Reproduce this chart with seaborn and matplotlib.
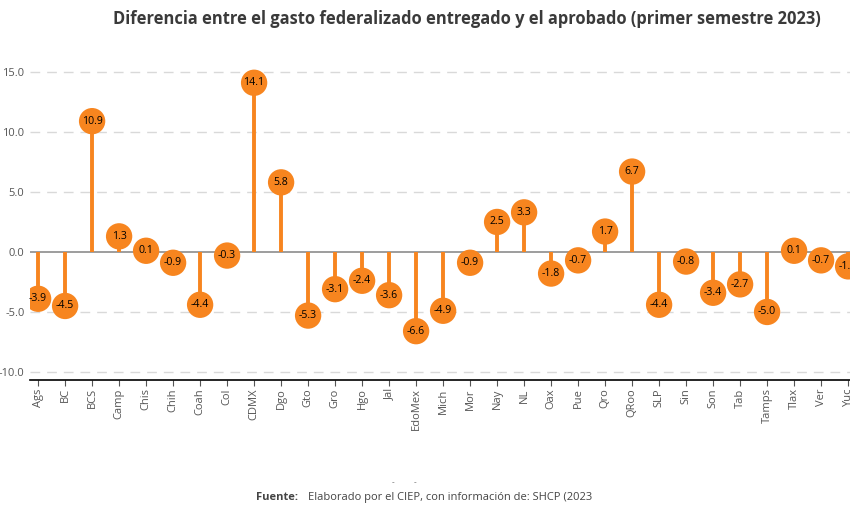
import pandas as pd
import seaborn as sns
import matplotlib
matplotlib.use('Agg')
import matplotlib.pyplot as plt

estados = ["Ags", "BC", "BCS", "Camp", "Chis", "Chih", "Coah", "Col", "CDMX", "Dgo",
           "Gto", "Gro", "Hgo", "Jal", "EdoMex", "Mich", "Mor", "Nay", "NL", "Oax",
           "Pue", "Qro", "QRoo", "SLP", "Sin", "Son", "Tab", "Tamps", "Tlax", "Ver", "Yuc"]
diferencia = [-3.9, -4.5, 10.9, 1.3, 0.1, -0.9, -4.4, -0.3, 14.1, 5.8,
              -5.3, -3.1, -2.4, -3.6, -6.6, -4.9, -0.9, 2.5, 3.3, -1.8,
              -0.7, 1.7, 6.7, -4.4, -0.8, -3.4, -2.7, -5.0, 0.1, -0.7, -1.2]
y_ticks = [-10, -5, 0, 5, 10, 15]

ORANGE = "#F7851F"

df = pd.DataFrame({"estado": estados, "dif": diferencia})
df["pos"] = range(len(df))

sns.set_style("white")
plt.rcParams['font.family'] = ['Open Sans', 'DejaVu Sans']

fig = plt.figure(figsize=(8.5, 5.07), dpi=100)
ax = fig.add_axes([0.0353, 0.2505, 0.9647, 0.6312])

# gridlines
for t in y_ticks:
    if t != 0:
        ax.axhline(t, color="#d9d9d9", lw=1, ls=(0, (7, 5)), zorder=0)
ax.axhline(0, color="#8c8c8c", lw=1.2, zorder=1)

# stems + lollipop heads
ax.vlines(df["pos"], 0, df["dif"], color=ORANGE, lw=2.8, zorder=2)
sns.scatterplot(data=df, x="pos", y="dif", color=ORANGE, s=360, edgecolor="none",
                ax=ax, zorder=3, legend=False)
for p, v in zip(df["pos"], df["dif"]):
    ax.text(p, v, f"{v:.1f}", ha="center", va="center", fontsize=7.6,
            color="black", zorder=4)

ax.set_xlim(-0.3, 30.07)
ax.set_ylim(-10.67, 16)
ax.set_yticks(y_ticks)
ax.set_yticklabels([f"{t:.1f}" for t in y_ticks], fontsize=8, color="#555555")
ax.set_xticks(df["pos"])
ax.set_xticklabels(df["estado"], rotation=90, fontsize=8, color="#555555")
ax.tick_params(axis="x", length=4, color="#555555", pad=2, bottom=True)
ax.tick_params(axis="y", length=0, pad=4)
ax.set_xlabel("")
ax.set_ylabel("")
for s in ["top", "right", "left"]:
    ax.spines[s].set_visible(False)
ax.spines["bottom"].set_color("black")
ax.spines["bottom"].set_linewidth(1.2)

fig.text(0.549, 0.962, "Diferencia entre el gasto federalizado entregado y el aprobado (primer semestre 2023)",
         ha="center", va="center", fontsize=11.9, fontweight="bold", color="#3a3a3a")
fig.text(0.462, 0.047, "-", ha="center", va="center", fontsize=6, color="#555555")
fig.text(0.488, 0.047, "-", ha="center", va="center", fontsize=6, color="#555555")
fig.text(0.301, 0.018, "Fuente:", ha="left", va="center", fontsize=8,
         fontweight="bold", color="#444444")
fig.text(0.362, 0.018, "Elaborado por el CIEP, con información de: SHCP (2023",
         ha="left", va="center", fontsize=8, color="#444444")

plt.savefig("out.png", dpi=100)
